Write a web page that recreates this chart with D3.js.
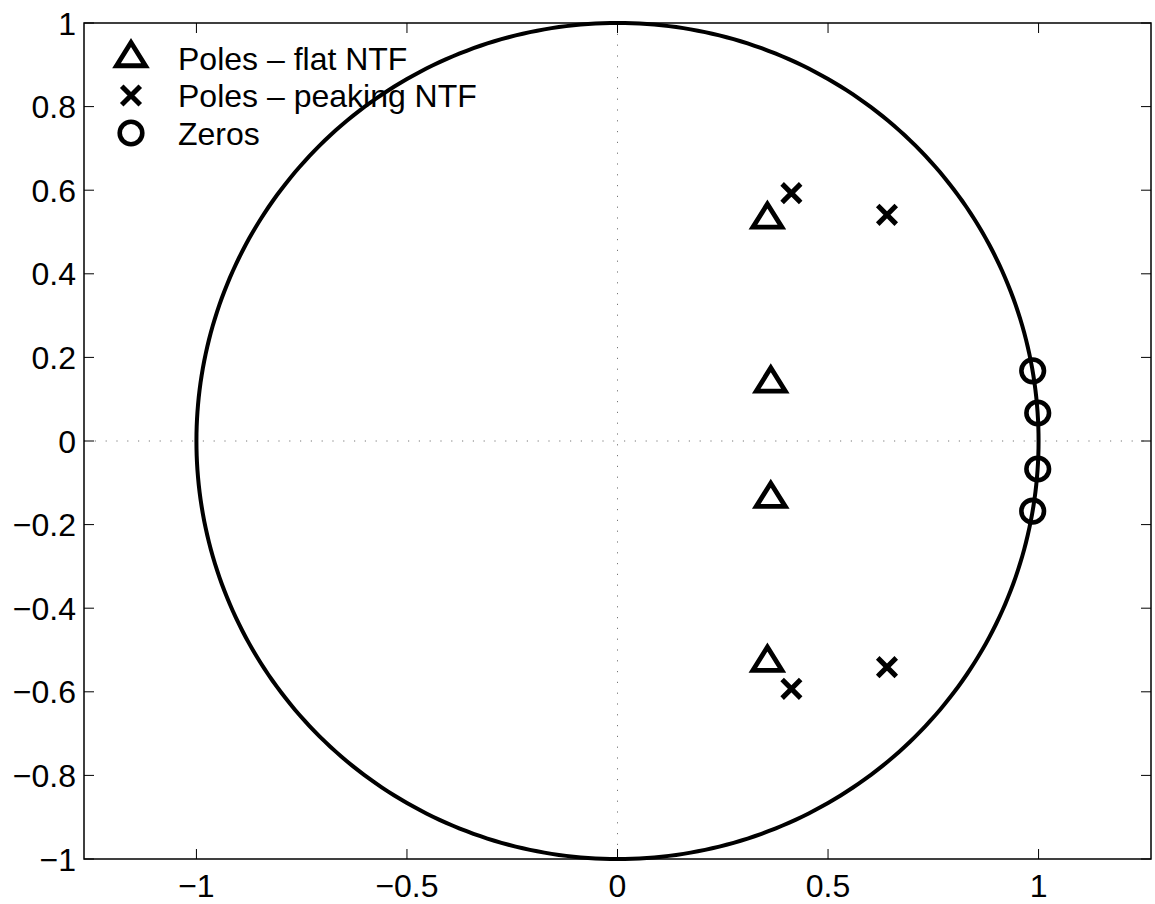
<!DOCTYPE html>
<html>
<head>
<meta charset="utf-8">
<script src="https://cdn.jsdelivr.net/npm/d3@7"></script>
<style>
  html, body { margin: 0; padding: 0; background: #fff; }
  svg { display: block; }
  text { font-family: "Liberation Sans", Arial, Helvetica, sans-serif; fill: #000; }
</style>
</head>
<body>
<svg id="chart" width="1155" height="904"></svg>
<script>
// Pole/zero locations in the z-plane
const flatPolesRe  = [0.356, 0.364, 0.364, 0.356];
const flatPolesIm  = [0.530, 0.138, -0.138, -0.530];
const peakPolesRe  = [0.413, 0.640, 0.640, 0.413];
const peakPolesIm  = [0.593, 0.541, -0.541, -0.593];
const zerosRe      = [0.986, 0.998, 0.998, 0.986];
const zerosIm      = [0.168, 0.067, -0.067, -0.168];

const xTicks = [-1, -0.5, 0, 0.5, 1];
const yTicks = [-1, -0.8, -0.6, -0.4, -0.2, 0, 0.2, 0.4, 0.6, 0.8, 1];
const legendLabels = ["Poles \u2013 flat NTF", "Poles \u2013 peaking NTF", "Zeros"];

const svg = d3.select("#chart");
const plot = { left: 84, right: 1151, top: 23, bottom: 859 };

const x = d3.scaleLinear().domain([-1.267, 1.267]).range([plot.left, plot.right]);
const y = d3.scaleLinear().domain([-1, 1]).range([plot.bottom, plot.top]);

const fmt = v => (v < 0 ? "\u2212" : "") + String(Math.abs(v));

// dotted real / imaginary axes
svg.append("line")
  .attr("x1", x(0)).attr("x2", x(0)).attr("y1", plot.top).attr("y2", plot.bottom)
  .attr("stroke", "#777").attr("stroke-width", 1).attr("stroke-dasharray", "1.2 9.6");
svg.append("line")
  .attr("x1", plot.left).attr("x2", plot.right).attr("y1", y(0)).attr("y2", y(0))
  .attr("stroke", "#777").attr("stroke-width", 1).attr("stroke-dasharray", "1.2 9.6");

// unit circle
const angles = d3.range(0, 361, 1).map(d => d * Math.PI / 180);
const circleLine = d3.line().x(a => x(Math.cos(a))).y(a => y(Math.sin(a)));
svg.append("path")
  .attr("d", circleLine(angles))
  .attr("fill", "none").attr("stroke", "#000").attr("stroke-width", 4);

// axes box with inward ticks on all sides
const tickLen = 10;
const axes = svg.append("g");
axes.append("rect")
  .attr("x", plot.left).attr("y", plot.top)
  .attr("width", plot.right - plot.left).attr("height", plot.bottom - plot.top)
  .attr("fill", "none").attr("stroke", "#000").attr("stroke-width", 1.5);

xTicks.forEach(t => {
  axes.append("line").attr("x1", x(t)).attr("x2", x(t))
    .attr("y1", plot.bottom).attr("y2", plot.bottom - tickLen)
    .attr("stroke", "#000").attr("stroke-width", 1);
  axes.append("line").attr("x1", x(t)).attr("x2", x(t))
    .attr("y1", plot.top).attr("y2", plot.top + tickLen)
    .attr("stroke", "#000").attr("stroke-width", 1);
  axes.append("text").attr("x", x(t)).attr("y", 897)
    .attr("text-anchor", "middle").attr("font-size", 32).text(fmt(t));
});
yTicks.forEach(t => {
  axes.append("line").attr("x1", plot.left).attr("x2", plot.left + tickLen)
    .attr("y1", y(t)).attr("y2", y(t))
    .attr("stroke", "#000").attr("stroke-width", 1);
  axes.append("line").attr("x1", plot.right).attr("x2", plot.right - tickLen)
    .attr("y1", y(t)).attr("y2", y(t))
    .attr("stroke", "#000").attr("stroke-width", 1);
  axes.append("text").attr("x", 76).attr("y", y(t)).attr("dy", "0.36em")
    .attr("text-anchor", "end").attr("font-size", 32).text(fmt(t));
});

// marker shapes
const triPath = "M0,-15.5L14.5,7.75L-14.5,7.75Z";
const crossPath = "M-7.5,-7.5L7.5,7.5M-7.5,7.5L7.5,-7.5";
function drawTriangle(g, cx, cy) {
  g.append("path").attr("d", triPath).attr("transform", `translate(${cx},${cy})`)
    .attr("fill", "none").attr("stroke", "#000").attr("stroke-width", 4.8)
    .attr("stroke-linejoin", "miter");
}
function drawCross(g, cx, cy) {
  g.append("path").attr("d", crossPath).attr("transform", `translate(${cx},${cy})`)
    .attr("fill", "none").attr("stroke", "#000").attr("stroke-width", 5)
    .attr("stroke-linecap", "square");
}
function drawRing(g, cx, cy) {
  g.append("circle").attr("cx", cx).attr("cy", cy).attr("r", 11.3)
    .attr("fill", "none").attr("stroke", "#000").attr("stroke-width", 4.6);
}

const marks = svg.append("g");
flatPolesRe.forEach((re, i) => drawTriangle(marks, x(re), y(flatPolesIm[i])));
peakPolesRe.forEach((re, i) => drawCross(marks, x(re), y(peakPolesIm[i])));
zerosRe.forEach((re, i) => drawRing(marks, x(re), y(zerosIm[i])));

// legend (no frame)
const legend = svg.append("g");
const rowY = [58, 95.5, 133];
const drawers = [drawTriangle, drawCross, drawRing];
legendLabels.forEach((lab, i) => {
  drawers[i](legend, 131, rowY[i]);
  legend.append("text").attr("x", 178).attr("y", rowY[i]).attr("dy", "0.36em")
    .attr("font-size", 32).text(lab);
});
</script>
</body>
</html>
